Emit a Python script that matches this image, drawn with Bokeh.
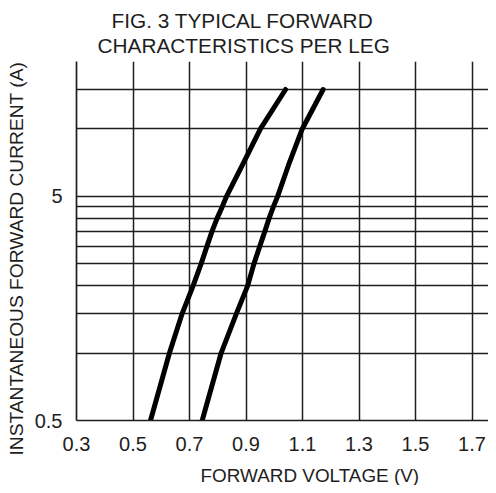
import math
from bokeh.plotting import figure
from bokeh.models import FixedTicker, Title
from bokeh.embed import file_html
from bokeh.resources import INLINE

# ---------------- data ----------------
title_lines = ["FIG. 3 TYPICAL FORWARD", "CHARACTERISTICS PER LEG"]
x_label = "FORWARD VOLTAGE (V)"
y_label = "INSTANTANEOUS FORWARD CURRENT (A)"

x_ticks = [0.3, 0.5, 0.7, 0.9, 1.1, 1.3, 1.5, 1.7]
x_tick_labels = ["0.3", "0.5", "0.7", "0.9", "1.1", "1.3", "1.5", "1.7"]
y_ticks = [0.5, 5]
y_tick_labels = ["0.5", "5"]
y_grid_values = [0.5, 1, 1.5, 2, 2.5, 3, 3.5, 4, 4.5, 5, 10, 15, 20]

leg_a_voltage = [0.562, 0.629, 0.674, 0.713, 0.741, 0.762, 0.780, 0.798, 0.816, 0.831, 0.892, 0.951, 1.040]
leg_a_current = [0.5, 1.0, 1.5, 2.0, 2.5, 3.0, 3.5, 4.0, 4.5, 5.0, 7.1, 10, 15]
leg_b_voltage = [0.745, 0.812, 0.866, 0.906, 0.928, 0.949, 0.967, 0.982, 0.997, 1.012, 1.054, 1.099, 1.173]
leg_b_current = [0.5, 1.0, 1.5, 2.0, 2.5, 3.0, 3.5, 4.0, 4.5, 5.0, 7.1, 10, 15]

# ---------------- layout ----------------
W, H = 488, 485
FL, FR, FT, FB = 76, 488, 61, 420          # frame edges in canvas px
X0, X1 = 0.3, 0.3 + (FR - FL) * 0.2 / 56.5
Y0, Y1 = 0.5, 20

FONT = "Liberation Sans"
INK = "#1e1e1e"

p = figure(width=W, height=H, x_range=(X0, X1), y_range=(Y0, Y1),
           y_axis_type="log", output_backend="svg", toolbar_location=None,
           min_border_left=FL, min_border_right=W - FR,
           min_border_top=FT, min_border_bottom=H - FB)
p.outline_line_color = None
p.background_fill_color = "white"
p.border_fill_color = "white"

# grid
p.xgrid.ticker = FixedTicker(ticks=x_ticks)
p.ygrid.ticker = FixedTicker(ticks=y_grid_values)
for g in (p.xgrid, p.ygrid):
    g.grid_line_color = INK
    g.grid_line_width = 1.5
    g.grid_line_alpha = 1.0

# axes
p.xaxis.ticker = FixedTicker(ticks=x_ticks)
p.xaxis.major_label_overrides = dict(zip(x_ticks, x_tick_labels))
p.yaxis.ticker = FixedTicker(ticks=y_ticks)
p.yaxis.major_label_overrides = dict(zip(y_ticks, y_tick_labels))
for ax in (p.xaxis, p.yaxis):
    ax.major_tick_line_color = None
    ax.minor_tick_line_color = None
    ax.major_tick_out = 0
    ax.major_tick_in = 0
    ax.minor_tick_out = 0
    ax.minor_tick_in = 0
    ax.axis_line_color = INK
    ax.axis_line_width = 1.7
    ax.major_label_text_font = FONT
    ax.major_label_text_font_size = "20px"
    ax.major_label_text_color = INK
p.xaxis.major_label_standoff = 16
p.yaxis.major_label_standoff = 14

# curves
p.line(leg_a_voltage, leg_a_current, line_color="black", line_width=5, line_cap="round", line_join="round")
p.line(leg_b_voltage, leg_b_current, line_color="black", line_width=5, line_cap="round", line_join="round")

# texts (titles in side panels so they are not clipped)
def mk_title(text, size, offset, standoff=0, valign="middle"):
    return Title(text=text, align="left", offset=offset, standoff=standoff,
                 vertical_align=valign, text_font=FONT, text_font_size=size,
                 text_font_style="normal", text_color=INK)

p.add_layout(mk_title(title_lines[1], "20.8px", 21, standoff=10, valign="bottom"), "above")
p.add_layout(mk_title(title_lines[0], "20.8px", 35, standoff=-10, valign="bottom"), "above")
p.add_layout(mk_title(" ", "1px", 0, standoff=6), "below")   # small spacer
p.add_layout(mk_title(x_label, "18.9px", 124, standoff=0, valign="bottom"), "below")
p.add_layout(mk_title(y_label, "19.2px", -35, standoff=6, valign="top"), "left")

open("out.html", "w").write(file_html(p, INLINE))
